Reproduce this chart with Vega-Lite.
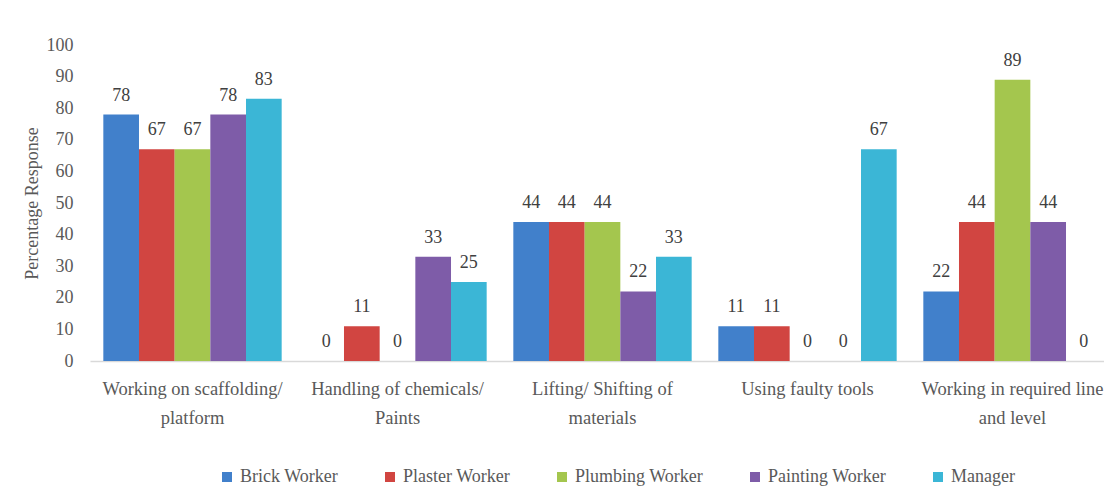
{
  "$schema": "https://vega.github.io/schema/vega-lite/v6.json",
  "autosize": "none",
  "width": 1014,
  "height": 316,
  "padding": {"left": 90, "top": 45, "right": 0, "bottom": 141},
  "background": "#ffffff",
  "config": {
    "view": {"stroke": null},
    "font": "Liberation Serif",
    "axis": {"labelFont": "Liberation Serif", "titleFont": "Liberation Serif"},
    "legend": {"labelFont": "Liberation Serif"},
    "text": {"font": "Liberation Serif"}
  },
  "data": {
    "values": [
      {"hazard": "Working on scaffolding/ platform", "group": "Brick Worker", "value": 78},
      {"hazard": "Working on scaffolding/ platform", "group": "Plaster Worker", "value": 67},
      {"hazard": "Working on scaffolding/ platform", "group": "Plumbing Worker", "value": 67},
      {"hazard": "Working on scaffolding/ platform", "group": "Painting Worker", "value": 78},
      {"hazard": "Working on scaffolding/ platform", "group": "Manager", "value": 83},
      {"hazard": "Handling of chemicals/ Paints", "group": "Brick Worker", "value": 0},
      {"hazard": "Handling of chemicals/ Paints", "group": "Plaster Worker", "value": 11},
      {"hazard": "Handling of chemicals/ Paints", "group": "Plumbing Worker", "value": 0},
      {"hazard": "Handling of chemicals/ Paints", "group": "Painting Worker", "value": 33},
      {"hazard": "Handling of chemicals/ Paints", "group": "Manager", "value": 25},
      {"hazard": "Lifting/ Shifting of materials", "group": "Brick Worker", "value": 44},
      {"hazard": "Lifting/ Shifting of materials", "group": "Plaster Worker", "value": 44},
      {"hazard": "Lifting/ Shifting of materials", "group": "Plumbing Worker", "value": 44},
      {"hazard": "Lifting/ Shifting of materials", "group": "Painting Worker", "value": 22},
      {"hazard": "Lifting/ Shifting of materials", "group": "Manager", "value": 33},
      {"hazard": "Using faulty tools", "group": "Brick Worker", "value": 11},
      {"hazard": "Using faulty tools", "group": "Plaster Worker", "value": 11},
      {"hazard": "Using faulty tools", "group": "Plumbing Worker", "value": 0},
      {"hazard": "Using faulty tools", "group": "Painting Worker", "value": 0},
      {"hazard": "Using faulty tools", "group": "Manager", "value": 67},
      {"hazard": "Working in required line and level", "group": "Brick Worker", "value": 22},
      {"hazard": "Working in required line and level", "group": "Plaster Worker", "value": 44},
      {"hazard": "Working in required line and level", "group": "Plumbing Worker", "value": 89},
      {"hazard": "Working in required line and level", "group": "Painting Worker", "value": 44},
      {"hazard": "Working in required line and level", "group": "Manager", "value": 0}
    ]
  },
  "encoding": {
    "x": {
      "field": "hazard",
      "type": "nominal",
      "sort": null,
      "scale": {"range": [0, 1025], "paddingInner": 0.13, "paddingOuter": 0.065},
      "axis": {
        "title": null,
        "labelAngle": 0,
        "labelFont": "Liberation Serif",
        "labelFontSize": 18.5,
        "labelColor": "#595959",
        "labelPadding": 18,
        "labelLineHeight": 29,
        "labelLimit": 400,
        "ticks": false,
        "domainColor": "#d9d9d9",
        "domainWidth": 1.5,
        "labelExpr": "datum.label == 'Working on scaffolding/ platform' ? ['Working on scaffolding/', 'platform'] : datum.label == 'Handling of chemicals/ Paints' ? ['Handling of chemicals/', 'Paints'] : datum.label == 'Lifting/ Shifting of materials' ? ['Lifting/ Shifting of', 'materials'] : datum.label == 'Working in required line and level' ? ['Working in required line', 'and level'] : datum.label"
      }
    },
    "xOffset": {
      "field": "group",
      "type": "nominal",
      "sort": ["Brick Worker", "Plaster Worker", "Plumbing Worker", "Painting Worker", "Manager"],
      "scale": {"paddingInner": 0, "paddingOuter": 0}
    },
    "y": {
      "field": "value",
      "type": "quantitative",
      "scale": {"domain": [0, 100], "nice": false},
      "axis": {
        "title": "Percentage Response",
        "titleFont": "Liberation Serif",
        "titleFontSize": 18,
        "titleFontWeight": "normal",
        "titleColor": "#595959",
        "titlePadding": 5,
        "labelFont": "Liberation Serif",
        "labelFontSize": 18,
        "labelColor": "#595959",
        "labelPadding": 17,
        "labelOverlap": false,
        "values": [0, 10, 20, 30, 40, 50, 60, 70, 80, 90, 100],
        "ticks": false,
        "domain": false,
        "grid": false
      }
    }
  },
  "layer": [
    {
      "mark": {"type": "bar"},
      "encoding": {
        "color": {
          "field": "group",
          "type": "nominal",
          "scale": {
            "domain": ["Brick Worker", "Plaster Worker", "Plumbing Worker", "Painting Worker", "Manager"],
            "range": ["#4180CB", "#D14541", "#A4C64E", "#7E5CA8", "#3BB6D6"]
          },
          "legend": {
            "title": null,
            "orient": "none",
            "direction": "horizontal",
            "legendX": 128,
            "legendY": 423,
            "symbolType": "square",
            "symbolSize": 100,
            "symbolStrokeWidth": 0,
            "labelFont": "Liberation Serif",
            "labelFontSize": 18,
            "labelColor": "#595959",
            "labelOffset": 4,
            "columnPadding": 42,
            "labelLimit": 300
          }
        }
      }
    },
    {
      "mark": {"type": "text", "baseline": "alphabetic", "dy": -14, "fontSize": 18, "color": "#404040", "font": "Liberation Serif"},
      "encoding": {
        "text": {"field": "value", "type": "quantitative"}
      }
    }
  ]
}
